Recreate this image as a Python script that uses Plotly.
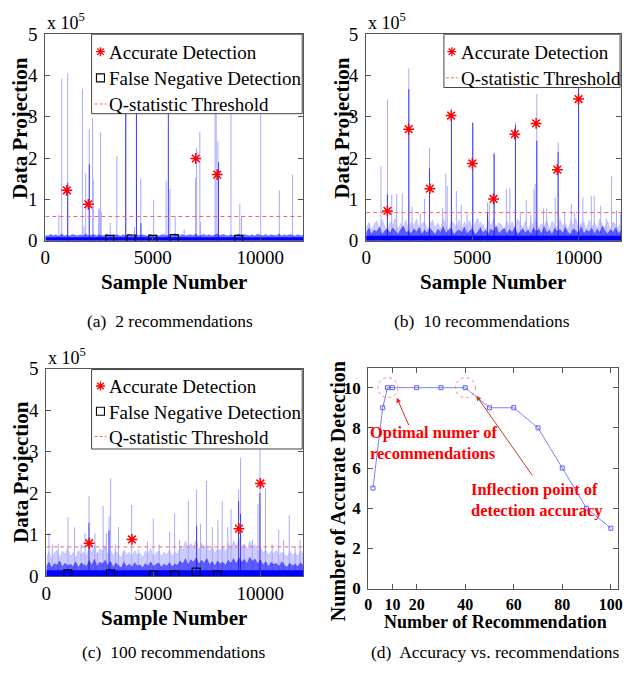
import plotly.graph_objects as go

W, H = 629, 679
SERIF = "Liberation Serif, Times New Roman, serif"

# ---------------- data (panels a-c in units of 1e3) ----------------
# noise-floor envelopes, read every 125 samples (97 values)
a_floor = 8
a_mid = [13,11,15,12,14,10,16,12,13,11,15,13,12,14,11,16,12,13,15,11,14,12,13,16,11,
         12,15,13,11,14,12,16,13,11,15,12,14,13,11,16,12,14,11,13,15,12,13,11,16,14,
         12,15,11,13,14,12,16,11,13,15,12,14,11,13,16,12,15,13,11,14,12,13,16,11,15,
         13,12,14,11,16,13,12,15,11,14,13,12,16,11,14,12,15,13,11,14,12,13]
a_light_x = [630,760,1040,1725,1800,1880,2045,2200,2230,2480,2530,2565,2600,3020,3330,3740,4150,
             4240,4440,5040,5620,5800,6045,6460,6990,7040,7190,7220,7900,7950,8030,8640,9050,9130,
             10020,10890,11500]
a_light_h = [62,392,405,368,35,163,270,297,148,78,75,262,70,43,205,400,33,400,150,98,145,125,58,28,
             152,225,263,45,400,400,240,400,90,60,400,122,160]
a_dark_x = [1040,2045,3740,4240,4450,5725,8060]
a_dark_h = [140,185,400,400,42,400,190]
a_hit_x = [1000,2000,7000,8000]
a_hit_y = [122,88,199,160]
a_miss_x = [3000,4000,5000,6000,9000]
a_miss_y = [3,4,3,5,3]
a_thr = 58.5

b_floor = 12
b_mid = [18,30,15,26,21,33,14,24,28,17,31,22,15,27,35,19,24,16,29,21,32,15,26,18,30,
         23,14,28,20,34,17,25,30,15,22,27,19,33,16,24,29,14,21,31,18,26,15,28,22,35,
         17,24,30,16,27,20,33,15,23,29,18,26,14,31,21,28,16,34,19,25,15,30,22,27,17,
         32,20,15,29,24,18,33,16,26,21,30,15,28,19,35,23,16,27,20,31,18,24]
b_light = [30,44,25,40,48,28,52,35,24,46,38,55,27,42,33,50,26,45,36,53,29,41,47,25,39,
           50,31,44,27,54,37,24,48,42,30,51,26,45,35,49,28,43,55,32,40,25,47,36,52,29,
           44,38,26,50,33,46,27,53,41,30,48,24,45,37,55,28,42,34,51,26,47,39,30,52,35,
           43,25,49,36,54,29,41,46,27,50,33,44,28,53,38,31,48,26,45,40,30,47]
b_light_x = [154,695,1000,1204,1436,1699,2008,2162,2548,2749,2981,3600,3753,3815,4015,4247,4478,
             4750,5019,5400,5714,5800,6023,6600,6765,7028,7260,7538,7750,7900,7955,8033,8350,8497,
             8900,9038,9347,9656,9800,10000,10200,10600,10736,11045,11300,11555,11787,11972]
b_light_h = [42,181,342,111,113,114,417,83,66,101,224,80,163,132,320,120,87,65,287,45,93,90,214,
             125,128,287,66,98,62,125,138,355,78,77,105,238,66,89,70,500,105,108,109,85,55,156,74,66]
b_dark_x = [1000,2008,2981,4015,5019,5714,6023,7028,8033,9038,10000]
b_dark_h = [112,367,175,300,285,70,210,280,242,215,370]
b_hit_x = [1000,2000,3000,4000,5000,6000,7000,8000,9000,10000]
b_hit_y = [72,270,126,303,187,101,258,284,172,343]
b_thr = 68

c_floor = 14
c_mid = [22,33,19,30,26,36,21,31,24,29,22,34,20,31,27,23,37,26,40,22,33,29,38,24,35,
         21,31,25,19,33,23,29,21,32,24,27,20,30,23,34,22,28,31,21,29,24,32,22,29,26,
         36,29,42,26,39,33,44,28,38,31,42,27,35,24,36,29,33,26,38,30,42,28,44,33,40,
         29,45,35,41,28,39,26,35,22,33,28,30,23,34,26,21,31,24,29,22,32,25]
c_light = [45,58,40,55,62,44,60,52,68,46,57,42,63,50,58,47,70,55,75,48,66,58,72,50,62,
           48,60,52,44,64,50,58,45,62,49,56,43,60,51,66,46,55,61,47,58,50,63,46,57,52,
           72,60,85,66,78,70,88,62,80,68,76,58,70,55,66,60,72,56,80,64,86,70,90,68,78,
           62,84,70,76,58,72,55,64,50,60,54,62,48,58,52,46,60,50,56,47,62,52]
c_light_x = [123,276,552,1012,1319,1625,1810,1993,2270,2390,2652,2806,2929,3004,3219,3372,3617,
             3985,4291,4720,4996,5272,5763,5993,6223,6637,7020,7204,7480,7756,8017,8216,8477,8630,
             8983,9075,9244,9627,9887,9980,10240,10550,10857,11087,11348,11624,11854]
c_light_h = [103,76,78,142,117,76,103,192,103,56,169,103,143,235,76,118,60,171,64,83,138,76,107,
             150,87,181,208,126,229,118,134,181,118,161,208,285,76,87,173,330,212,76,111,87,146,72,87]
c_dark_x = [1993,2929,7020,8983,9075,9980]
c_dark_h = [128,110,120,180,150,200]
c_hit_x = [2000,4000,9000,10000]
c_hit_y = [79,88,114,223]
c_miss_x = [1000,3000,5000,6000,7000,8000]
c_miss_y = [5,5,2,2,9,2]
c_thr = 70

# panel (d) accuracy vs recommendations
recs = [2,6,8,10,20,30,40,50,60,70,80,90,100]
acc = [5,9,10,10,10,10,10,9,9,8,6,4,3]

LEGEND_LABELS = ["Accurate Detection", "False Negative Detection", "Q-statistic Threshold"]

# ---------------- helpers ----------------
def grid(vals):
    n = len(vals)
    return [i * 12000 / (n - 1) for i in range(n)]

def spikes(xs, hs):
    X, Y = [], []
    for x, h in zip(xs, hs):
        X += [x, x, None]
        Y += [0, h * 1e3, None]
    return X, Y

fig = go.Figure()

LIGHT = "#a8a8ff"
DARK = "#3c3cff"

def add_panel(ax, floor, mid, light, lx, lh, dx, dh, hx, hy, mx, my, thr):
    xa, ya = ("x" + ax, "y" + ax) if ax != "1" else ("x", "y")
    common = dict(showlegend=False, hoverinfo="skip", xaxis=xa, yaxis=ya)
    if light is not None:
        fig.add_trace(go.Scatter(x=grid(light), y=[v * 1e3 for v in light], mode="lines", fill="tozeroy",
                                 line=dict(color="rgba(0,0,255,0.22)", width=0.5),
                                 fillcolor="rgba(0,0,255,0.2)", **common))
    X, Y = spikes(lx, lh)
    fig.add_trace(go.Scatter(x=X, y=Y, mode="lines", line=dict(color=LIGHT, width=1), **common))
    X, Y = spikes(dx, dh)
    fig.add_trace(go.Scatter(x=X, y=Y, mode="lines", line=dict(color=DARK, width=1), **common))
    fig.add_trace(go.Scatter(x=grid(mid), y=[v * 1e3 for v in mid], mode="lines", fill="tozeroy",
                             line=dict(color="rgba(0,0,255,0.6)", width=0.5),
                             fillcolor="rgba(0,0,255,0.55)", **common))
    fig.add_trace(go.Scatter(x=[0, 12000], y=[floor * 1e3] * 2, mode="lines", fill="tozeroy",
                             line=dict(color="#0000ff", width=0), fillcolor="#0000ff", **common))
    fig.add_trace(go.Scatter(x=[0, 12000], y=[thr * 1e3] * 2, mode="lines",
                             line=dict(color="#ff6060", width=1, dash="4px,3px"), **common))
    fig.add_trace(go.Scatter(x=hx, y=[v * 1e3 for v in hy], mode="markers",
                             marker=dict(symbol="asterisk-open", size=9, color="red",
                                         line=dict(color="red", width=1.5)), **common))
    if mx is not None:
        fig.add_trace(go.Scatter(x=mx, y=[v * 1e3 for v in my], mode="markers",
                                 marker=dict(symbol="square-open", size=8, color="black",
                                             line=dict(color="black", width=1.2)), **common))

add_panel("1", a_floor, a_mid, None, a_light_x, a_light_h, a_dark_x, a_dark_h,
          a_hit_x, a_hit_y, a_miss_x, a_miss_y, a_thr)
add_panel("2", b_floor, b_mid, b_light, b_light_x, b_light_h, b_dark_x, b_dark_h,
          b_hit_x, b_hit_y, None, None, b_thr)
add_panel("3", c_floor, c_mid, c_light, c_light_x, c_light_h, c_dark_x, c_dark_h,
          c_hit_x, c_hit_y, c_miss_x, c_miss_y, c_thr)

fig.add_trace(go.Scatter(x=recs, y=acc, mode="lines+markers", showlegend=False, hoverinfo="skip",
                         line=dict(color="#8080ff", width=1),
                         marker=dict(symbol="square-open", size=4, color="#6060ff",
                                     line=dict(color="#6060ff", width=1)),
                         xaxis="x4", yaxis="y4"))

def px_x(p):
    return p / W

def px_y(p):
    return 1 - p / H

def axis(domain, anchor, rng, tickvals, ticktext, size, bold=False, standoff=3):
    return dict(domain=domain, anchor=anchor, range=rng, tickvals=tickvals, ticktext=ticktext,
                ticks="inside", ticklen=5, tickwidth=1, tickcolor="#555",
                showline=True, linecolor="#555", linewidth=1, mirror="ticks",
                showgrid=False, zeroline=False, ticklabelstandoff=standoff,
                tickfont=dict(family=SERIF, size=size, color="black",
                              weight="bold" if bold else "normal"))

xt = [0, 5000, 10000]
xtt = ["0", "5000", "10000"]
yt = [0, 1e5, 2e5, 3e5, 4e5, 5e5]
ytt = ["0", "1", "2", "3", "4", "5"]

dom_a = ([px_x(41), px_x(303)], [px_y(238), px_y(25)])
dom_b = ([px_x(367), px_x(626)], [px_y(238), px_y(25)])
dom_c = ([px_x(42), px_x(303)], [px_y(584), px_y(370)])
dom_d = ([px_x(369), px_x(623)], [px_y(597), px_y(369)])

fig.update_layout(
    width=W, height=H, margin=dict(l=0, r=0, t=0, b=0), showlegend=False,
    paper_bgcolor="white", plot_bgcolor="white",
    xaxis=axis(dom_a[0], "y", [0, 12000], xt, xtt, 19, standoff=0),
    yaxis=axis(dom_a[1], "x", [0, 5e5], yt, ytt, 19),
    xaxis2=axis(dom_b[0], "y2", [0, 12000], xt, xtt, 19, standoff=0),
    yaxis2=axis(dom_b[1], "x2", [0, 5e5], yt, ytt, 19),
    xaxis3=axis(dom_c[0], "y3", [0, 12000], xt, xtt, 19, standoff=0),
    yaxis3=axis(dom_c[1], "x3", [0, 5e5], yt, ytt, 19),
    xaxis4=axis(dom_d[0], "y4", [0, 103], [0, 10, 20, 40, 60, 80, 100],
                ["0", "10", "20", "40", "60", "80", "100"], 16, True, standoff=1),
    yaxis4=axis(dom_d[1], "x4", [0, 11], [0, 2, 4, 6, 8, 10],
                ["0", "2", "4", "6", "8", "10"], 17, True),
)

ann = []
shapes = []

def text(x, y, s, size, bold=False, color="black", angle=0, xanchor="center", yanchor="middle", align="center"):
    ann.append(dict(x=px_x(x), y=px_y(y), xref="paper", yref="paper", text=s, showarrow=False,
                    textangle=angle, xanchor=xanchor, yanchor=yanchor, align=align,
                    font=dict(family=SERIF, size=size, color=color,
                              weight="bold" if bold else "normal")))

STAR = "M-4.5,0L4.5,0M0,-4.5L0,4.5M-3.2,-3.2L3.2,3.2M-3.2,3.2L3.2,-3.2"

def legend_box(x0, y0, x1, y1, sym_x, text_x, rows):
    shapes.append(dict(type="rect", xref="paper", yref="paper", x0=px_x(x0), x1=px_x(x1),
                       y0=px_y(y1), y1=px_y(y0), fillcolor="white",
                       line=dict(color="#444", width=1), layer="above"))
    for kind, cy, label in rows:
        if kind == "star":
            shapes.append(dict(type="path", xref="paper", yref="paper", xsizemode="pixel",
                               ysizemode="pixel", xanchor=px_x(sym_x), yanchor=px_y(cy), path=STAR,
                               line=dict(color="red", width=1.3), layer="above"))
        elif kind == "square":
            shapes.append(dict(type="rect", xref="paper", yref="paper", xsizemode="pixel",
                               ysizemode="pixel", xanchor=px_x(sym_x), yanchor=px_y(cy),
                               x0=-4, x1=4, y0=-4, y1=4, line=dict(color="black", width=1.1),
                               layer="above"))
        else:
            shapes.append(dict(type="line", xref="paper", yref="paper", x0=px_x(sym_x - 6),
                               x1=px_x(sym_x + 6), y0=px_y(cy), y1=px_y(cy),
                               line=dict(color="#ff6060", width=1, dash="3px,2px"), layer="above"))
        text(text_x, cy + 1, label, 19, xanchor="left")

legend_box(88, 25, 302, 107, 97, 104,
           [("star", 43, LEGEND_LABELS[0]), ("square", 70, LEGEND_LABELS[1]), ("dash", 97, LEGEND_LABELS[2])])
legend_box(446, 25, 625, 80, 454, 461,
           [("star", 43, LEGEND_LABELS[0]), ("dash", 70, LEGEND_LABELS[2])])
legend_box(88, 371, 302, 453, 97, 104,
           [("star", 388, LEGEND_LABELS[0]), ("square", 414, LEGEND_LABELS[1]), ("dash", 440, LEGEND_LABELS[2])])

# axis titles
text(15, 122, "Data Projection", 21, True, angle=-90)
text(172, 281, "Sample Number", 21, True)
text(343, 122, "Data Projection", 21, True, angle=-90)
text(496, 281, "Sample Number", 21, True)
text(17, 477, "Data Projection", 21, True, angle=-90)
text(172, 627, "Sample Number", 21, True)
text(338, 497, "Number of Accurate Detection", 20, True, angle=-90)
text(498, 632, "Number of Recommendation", 18, True)

# exponent labels
text(41, 26, "x 10<sup>5</sup>", 18, xanchor="left", yanchor="bottom")
text(367, 26, "x 10<sup>5</sup>", 18, xanchor="left", yanchor="bottom")
text(42, 371, "x 10<sup>5</sup>", 18, xanchor="left", yanchor="bottom")

# captions
text(168, 321, "(a)  2 recommendations", 17.5)
text(485, 321, "(b)  10 recommendations", 17.5)
text(171, 662, "(c)  100 recommendations", 17.5)
text(498, 662, "(d)  Accuracy vs. recommendations", 17.5)

# panel (d) callouts
text(369, 447, "Optimal numer of<br>recommendations", 16.5, True, color="red", xanchor="left", align="left")
text(472, 506, "Inflection point of<br>detection accuracy", 16.5, True, color="red", xanchor="left", align="left")

ann.append(dict(x=11.8, y=9.5, ax=17.0, ay=8.06, xref="x4", yref="y4", axref="x4", ayref="y4",
                text="", showarrow=True, arrowhead=2, arrowsize=1, arrowwidth=1, arrowcolor="#e82020"))
ann.append(dict(x=44.6, y=9.6, ax=68.1, ay=5.55, xref="x4", yref="y4", axref="x4", ayref="y4",
                text="", showarrow=True, arrowhead=2, arrowsize=1, arrowwidth=1, arrowcolor="#c83c1e"))

for cx, cy in [(8.1, 10), (40.1, 10)]:
    shapes.append(dict(type="circle", xref="x4", yref="y4", xsizemode="pixel", ysizemode="pixel",
                       xanchor=cx, yanchor=cy, x0=-10, x1=10, y0=-10, y1=10,
                       line=dict(color="#ff8080", width=1, dash="dot")))

fig.update_layout(annotations=ann, shapes=shapes)

fig.write_html("out.html", config={"displayModeBar": False},
               post_script="document.body.style.margin='0px';")
